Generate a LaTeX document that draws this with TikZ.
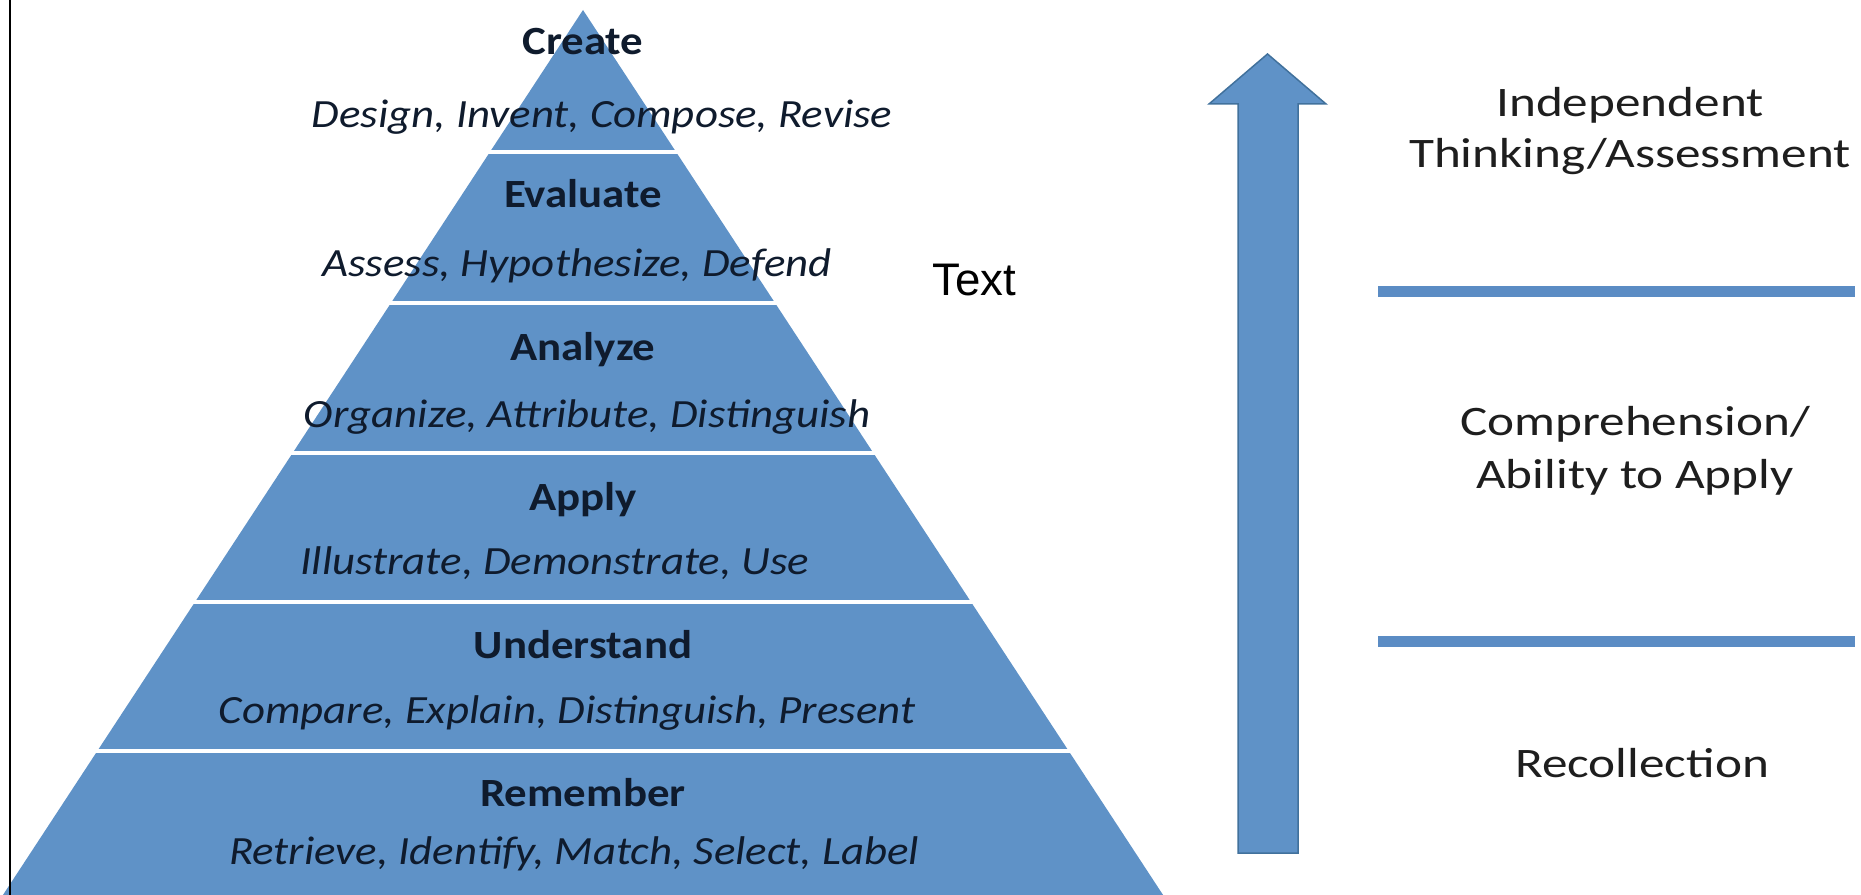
\documentclass[tikz,border=0pt]{standalone}
\usepackage{fontspec}
\setmainfont{Carlito}[FakeStretch=1.12]
\newfontfamily\sidefont{Carlito}[FakeStretch=1.22]
\newfontfamily\arialfont{Liberation Sans}
\usetikzlibrary{positioning}
\usepackage{xcolor}
\definecolor{pyrblue}{HTML}{5F92C7}
\definecolor{arrowedge}{HTML}{41719C}
\definecolor{sepblue}{HTML}{5B8CC4}
\definecolor{inkblue}{HTML}{0F1B2D}
\definecolor{sidegray}{HTML}{1E1E1E}

\begin{document}
\begin{tikzpicture}[
    x=0.02cm, y=-0.02cm,
    every node/.style={inner sep=0pt},
    lvltitle/.style={font=\fontsize{22.8}{27}\selectfont\bfseries,
                     color=inkblue, anchor=base},
    lvlverbs/.style={font=\fontsize{22.8}{27}\selectfont\itshape,
                     color=inkblue, anchor=base},
    sidetext/.style={font=\sidefont\fontsize{23.9}{30}\selectfont,
                     color=sidegray, anchor=base},
    divider/.style={white, line width=0.09cm},
    sepline/.style={sepblue, line width=0.22cm},
]

% ── Canvas ──────────────────────────────────────────────────────
\useasboundingbox (0,0) rectangle (1861,895);

% ── Pyramid ─────────────────────────────────────────────────────
\fill[pyrblue] (583,10) -- (1167,901) -- (-1,901) -- cycle;
\foreach \y in {152,303,453,602,751}{
  \draw[divider] ({583-0.655*(\y-10)-3},\y) -- ({583+0.655*(\y-10)+3},\y);
}

% ── Left frame line ─────────────────────────────────────────────
\draw[black, line width=0.04cm] (10,0) -- (10,895);

% ── Levels ──────────────────────────────────────────────────────
\node[lvltitle] (create)     at (583,55)  {Create};
\node[lvlverbs] (createv)    at (602,128) {Design, Invent, Compose, Revise};

\node[lvltitle] (evaluate)   at (583,208) {Evaluate};
\node[lvlverbs] (evaluatev)  at (577,276) {Assess, Hypothesize, Defend};

\node[lvltitle] (analyze)    at (583,360) {Analyze};
\node[lvlverbs] (analyzev)   at (587,427) {Organize, Attribute, Distinguish};

\node[lvltitle] (apply)      at (583,510) {Apply};
\node[lvlverbs] (applyv)     at (555,574) {Illustrate, Demonstrate, Use};

\node[lvltitle] (understand) at (583,658) {Understand};
\node[lvlverbs] (understandv) at (567,723) {Compare, Explain, Distinguish, Present};

\node[lvltitle] (remember)   at (583,806) {Remember};
\node[lvlverbs] (rememberv)  at (574,864) {Retrieve, Identify, Match, Select, Label};

% ── Stray label ─────────────────────────────────────────────────
\node[font=\arialfont\fontsize{26}{30}\selectfont, anchor=base] (textlbl)
  at (974,295) {Text};

% ── Upward arrow ────────────────────────────────────────────────
\filldraw[fill=pyrblue, draw=arrowedge, line width=0.03cm]
  (1238,853) -- (1238,104) -- (1209,104) -- (1267.5,54)
  -- (1326,104) -- (1298,104) -- (1298,853) -- cycle;

% ── Separators ──────────────────────────────────────────────────
\draw[sepline] (1378,291) -- (1855,291);
\draw[sepline] (1378,641) -- (1855,641);

% ── Outcome labels ──────────────────────────────────────────────
\node[sidetext] (indepA) at (1630,117) {Independent};
\node[sidetext] (indepB) at (1630,168) {Thinking/Assessment};
\node[sidetext] (compA)  at (1635,435) {Comprehension/};
\node[sidetext] (compB)  at (1635,488) {Ability to Apply};
\node[sidetext] (recoll) at (1642,777) {Recollection};

\end{tikzpicture}
\end{document}
